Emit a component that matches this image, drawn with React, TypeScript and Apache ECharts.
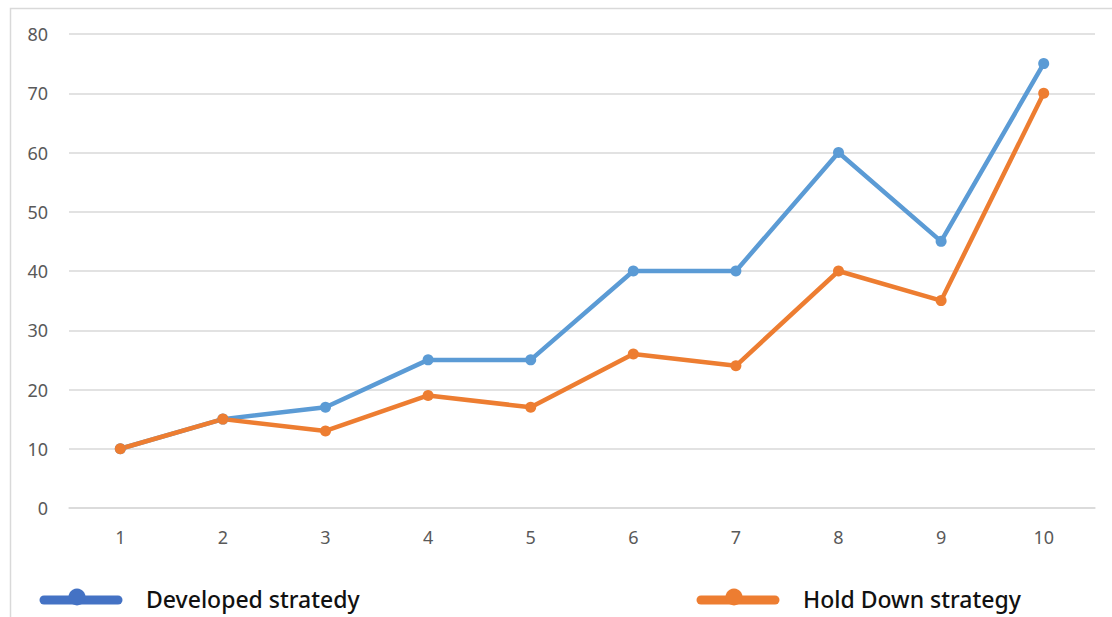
import React, { useEffect, useRef } from "react";
import * as echarts from "echarts";

const categories = ["1", "2", "3", "4", "5", "6", "7", "8", "9", "10"];
const developed = [10, 15, 17, 25, 25, 40, 40, 60, 45, 75];
const holdDown = [10, 15, 13, 19, 17, 26, 24, 40, 35, 70];
const seriesNames = ["Developed stratedy", "Hold Down strategy"];

const BLUE_LINE = "#5B9BD5";
const BLUE_KEY = "#4472C4";
const ORANGE = "#ED7D31";

// One legend entry: a thick rounded stroke with a dot, followed by its label.
function legendKey(x: number, color: string, label: string) {
  return {
    type: "group",
    x,
    y: 600,
    silent: true,
    children: [
      {
        type: "line",
        shape: { x1: 4, y1: 0, x2: 78, y2: 0 },
        style: { stroke: color, lineWidth: 9, lineCap: "round" },
      },
      {
        type: "circle",
        shape: { cx: 37, cy: -3, r: 8.5 },
        style: { fill: color },
      },
      {
        type: "text",
        x: 106,
        y: -1,
        style: {
          text: label,
          fill: "#111111",
          font: '500 23px "Noto Sans"',
          verticalAlign: "middle",
          align: "left",
        },
      },
    ],
  };
}

export default function App() {
  const ref = useRef<HTMLDivElement>(null);

  useEffect(() => {
    document.body.style.margin = "0";
    const chart = echarts.init(ref.current!, undefined, { renderer: "svg" });
    chart.setOption({
      animation: false,
      backgroundColor: "#ffffff",
      graphic: [
        {
          type: "rect",
          shape: { x: 10.5, y: 8.5, width: 1120, height: 640 },
          style: { fill: "none", stroke: "#d9d9d9", lineWidth: 1.5 },
          silent: true,
        },
        legendKey(40, BLUE_KEY, seriesNames[0]),
        legendKey(697, ORANGE, seriesNames[1]),
      ],
      grid: { left: 69, right: 17, top: 34, bottom: 109 },
      xAxis: {
        type: "category",
        data: categories,
        boundaryGap: true,
        axisLine: { show: true, lineStyle: { color: "#d9d9d9", width: 1.5 } },
        axisTick: { show: false },
        axisLabel: {
          color: "#595959",
          fontFamily: "Noto Sans",
          fontSize: 18,
          margin: 20,
        },
      },
      yAxis: {
        type: "value",
        min: 0,
        max: 80,
        interval: 10,
        axisLine: { show: false },
        axisTick: { show: false },
        splitLine: { lineStyle: { color: "#d9d9d9", width: 1.5 } },
        axisLabel: {
          color: "#595959",
          fontFamily: "Noto Sans",
          fontSize: 18,
          margin: 21,
        },
      },
      series: [
        {
          name: seriesNames[0],
          type: "line",
          data: developed,
          symbol: "circle",
          symbolSize: 11,
          color: BLUE_LINE,
          lineStyle: { width: 4.5, color: BLUE_LINE },
          itemStyle: { color: BLUE_LINE },
        },
        {
          name: seriesNames[1],
          type: "line",
          data: holdDown,
          symbol: "circle",
          symbolSize: 11,
          color: ORANGE,
          lineStyle: { width: 4.5, color: ORANGE },
          itemStyle: { color: ORANGE },
        },
      ],
    });
    return () => chart.dispose();
  }, []);

  return <div ref={ref} style={{ width: 1112, height: 617 }} />;
}
